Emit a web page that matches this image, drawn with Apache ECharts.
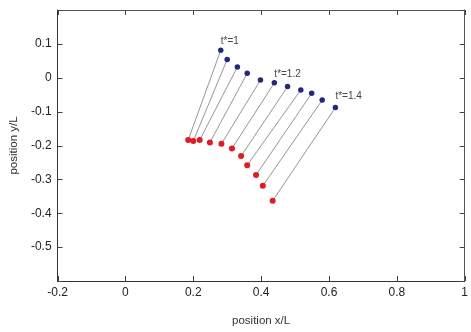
<!DOCTYPE html>
<html lang="en">
<head>
    <meta charset="UTF-8">
    <title>position</title>
    <script src="https://cdn.jsdelivr.net/npm/echarts@6/dist/echarts.min.js"></script>
    <style>
        html, body { margin: 0; padding: 0; background: #fff; }
        #paint { width: 471px; height: 332px; }
    </style>
</head>
<body>
<div id="paint"></div>
<script type="text/javascript">
    // end positions (blue) and start positions (red), x/L and y/L
    var blueX = [0.281, 0.300, 0.330, 0.359, 0.398, 0.439, 0.478, 0.517, 0.549, 0.580, 0.619];
    var blueY = [0.081, 0.054, 0.032, 0.013, -0.007, -0.015, -0.026, -0.036, -0.046, -0.066, -0.088];
    var redX = [0.185, 0.200, 0.219, 0.249, 0.283, 0.314, 0.341, 0.359, 0.385, 0.405, 0.434];
    var redY = [-0.184, -0.187, -0.184, -0.191, -0.195, -0.209, -0.231, -0.258, -0.287, -0.319, -0.363];
    // labelled points
    var tLabels = { 0: 't*=1', 5: 't*=1.2', 10: 't*=1.4' };
    // tick values
    var xTicks = [-0.2, 0, 0.2, 0.4, 0.6, 0.8, 1];
    var yTicks = [-0.6, -0.5, -0.4, -0.3, -0.2, -0.1, 0, 0.1, 0.2];

    var xMin = -0.2, xMax = 1, yMin = -0.6, yMax = 0.2;

    var myChart = echarts.init(document.getElementById('paint'));
    var font = 'Arial, "Liberation Sans", sans-serif';
    var tickLen = 5;
    var tickStyle = { stroke: '#444', lineWidth: 1 };

    var series = [];
    for (var i = 0; i < blueX.length; i++) {
        series.push({
            type: 'line',
            data: [[blueX[i], blueY[i]], [redX[i], redY[i]]],
            symbol: 'none',
            silent: true,
            lineStyle: { color: '#7a7a7a', width: 0.8 },
            z: 1
        });
    }

    var blueData = blueX.map(function (x, i) {
        var d = { value: [x, blueY[i]] };
        if (tLabels[i]) {
            d.label = {
                show: true,
                formatter: tLabels[i],
                position: 'top',
                align: 'left',
                distance: i === 10 ? 4 : 1,
                color: '#444',
                fontSize: 10,
                fontFamily: font
            };
        }
        return d;
    });
    var redData = redX.map(function (x, i) { return [x, redY[i]]; });

    series.push({
        type: 'scatter',
        data: blueData,
        symbolSize: 5.5,
        itemStyle: { color: '#25287a', opacity: 1 },
        z: 3
    });
    series.push({
        type: 'scatter',
        data: redData,
        symbolSize: 6,
        itemStyle: { color: '#e01b24', opacity: 1 },
        z: 3
    });

    // inward ticks on all four sides, placed through the axis scales
    series.push({
        type: 'custom',
        silent: true,
        z: 4,
        data: xTicks.map(function (v) { return [v, yMin]; }),
        renderItem: function (params, api) {
            var v = api.value(0);
            var b = api.coord([v, yMin]);
            var t = api.coord([v, yMax]);
            var x = Math.round(b[0]) + 0.5;
            return {
                type: 'group',
                children: [
                    { type: 'line', shape: { x1: x, y1: b[1], x2: x, y2: b[1] - tickLen }, style: tickStyle },
                    { type: 'line', shape: { x1: x, y1: t[1], x2: x, y2: t[1] + tickLen }, style: tickStyle }
                ]
            };
        }
    });
    series.push({
        type: 'custom',
        silent: true,
        z: 4,
        data: yTicks.map(function (v) { return [xMin, v]; }),
        renderItem: function (params, api) {
            var v = api.value(1);
            var l = api.coord([xMin, v]);
            var r = api.coord([xMax, v]);
            var y = Math.round(l[1]) + 0.5;
            return {
                type: 'group',
                children: [
                    { type: 'line', shape: { x1: l[0], y1: y, x2: l[0] + tickLen, y2: y }, style: tickStyle },
                    { type: 'line', shape: { x1: r[0], y1: y, x2: r[0] - tickLen, y2: y }, style: tickStyle }
                ]
            };
        }
    });

    function fmt(v) { return String(Math.round(v * 10) / 10); }

    var option = {
        animation: false,
        grid: { left: 55, right: 6, top: 10, bottom: 50 },
        xAxis: [{
            type: 'value', position: 'bottom',
            min: xMin, max: xMax, interval: 0.2,
            name: 'position x/L',
            nameLocation: 'middle',
            nameGap: 34,
            nameTextStyle: { color: '#333', fontSize: 11.5, fontFamily: font },
            axisLine: { show: true, onZero: false, lineStyle: { color: '#333' } },
            axisTick: { show: false },
            axisLabel: { color: '#222', fontSize: 12, fontFamily: font, margin: 6, formatter: fmt },
            splitLine: { show: false }
        }, {
            type: 'value', position: 'top',
            min: xMin, max: xMax, interval: 0.2,
            axisLine: { show: true, onZero: false, lineStyle: { color: '#555' } },
            axisTick: { show: false },
            axisLabel: { show: false },
            splitLine: { show: false }
        }],
        yAxis: [{
            type: 'value', position: 'left',
            min: yMin, max: yMax, interval: 0.1,
            name: 'position y/L',
            nameLocation: 'middle',
            nameGap: 37,
            nameTextStyle: { color: '#333', fontSize: 11.5, fontFamily: font },
            axisLine: { show: true, onZero: false, lineStyle: { color: '#333' } },
            axisTick: { show: false },
            axisLabel: {
                color: '#222', fontSize: 12, fontFamily: font, margin: 6,
                showMinLabel: false, showMaxLabel: false, formatter: fmt
            },
            splitLine: { show: false }
        }, {
            type: 'value', position: 'right',
            min: yMin, max: yMax, interval: 0.1,
            axisLine: { show: true, onZero: false, lineStyle: { color: '#555' } },
            axisTick: { show: false },
            axisLabel: { show: false },
            splitLine: { show: false }
        }],
        series: series
    };
    myChart.setOption(option);
</script>
</body>
</html>
